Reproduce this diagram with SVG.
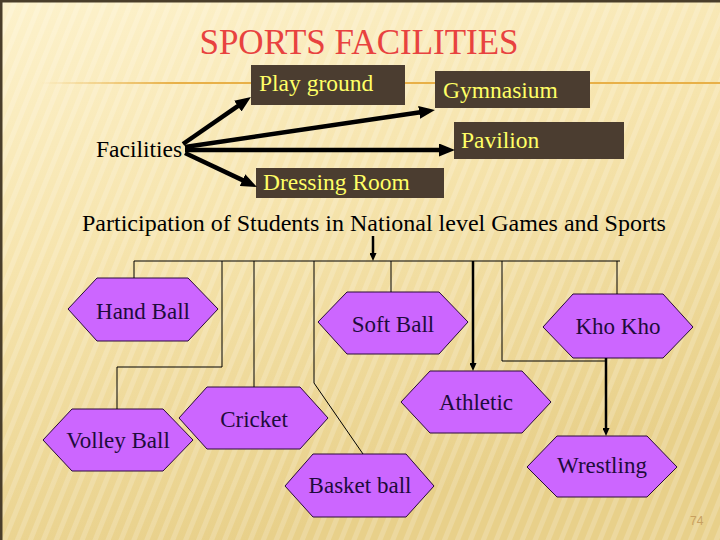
<svg xmlns="http://www.w3.org/2000/svg" width="720" height="540" viewBox="0 0 720 540">
<defs>
<linearGradient id="bg" x1="0" y1="0" x2="0.35" y2="1">
<stop offset="0" stop-color="#fdf2cc"/>
<stop offset="0.45" stop-color="#f6e4ad"/>
<stop offset="1" stop-color="#e8d08a"/>
</linearGradient>
<pattern id="stripes" width="12" height="12" patternUnits="userSpaceOnUse" patternTransform="rotate(22)">
<rect width="5" height="12" fill="#ffffff" opacity="0.18"/>
</pattern>
<linearGradient id="rule" x1="40" y1="0" x2="720" y2="0" gradientUnits="userSpaceOnUse">
<stop offset="0" stop-color="#e8b048" stop-opacity="0"/>
<stop offset="0.2" stop-color="#e8b048" stop-opacity="1"/>
<stop offset="1" stop-color="#e8b048" stop-opacity="1"/>
</linearGradient>
<marker id="big" markerUnits="userSpaceOnUse" markerWidth="16" markerHeight="13" refX="3" refY="6.5" orient="auto">
<path d="M0,0 L16,6.5 L0,13 z" fill="#000"/>
</marker>
<marker id="small" markerUnits="userSpaceOnUse" markerWidth="8" markerHeight="7" refX="2" refY="3.5" orient="auto">
<path d="M0,0 L8,3.5 L0,7 z" fill="#000"/>
</marker>
</defs>
<style>
.box{fill:#4b3d30}
.boxt{font-family:"Liberation Serif",serif;font-size:23.5px;fill:#ffff66}
.hex{fill:#cc66ff;stroke:#2a0a3a;stroke-width:1}
.hext{font-family:"Liberation Serif",serif;font-size:23px;fill:#1e0b3c;text-anchor:middle}
.lbl{font-family:"Liberation Serif",serif;font-size:23.5px;fill:#000}
.thin{stroke:#000;stroke-width:1;fill:none}
.thick{stroke:#000;stroke-width:2.5;fill:none}
.big{stroke:#000;stroke-width:4.5;fill:none}
</style>
<rect width="720" height="540" fill="url(#bg)"/>
<rect width="720" height="540" fill="url(#stripes)"/>
<rect x="0" y="0" width="720" height="2.5" fill="#4a3e2a"/>
<rect x="0" y="0" width="2.5" height="540" fill="#4a3e2a"/>
<line x1="40" y1="83" x2="720" y2="83" stroke="url(#rule)" stroke-width="2"/>
<text x="359" y="54" font-family="'Liberation Serif',serif" font-size="35" fill="#e8423f" text-anchor="middle">SPORTS FACILITIES</text>
<text x="690" y="525" font-family="'Liberation Sans',sans-serif" font-size="12" fill="#c8a060">74</text>

<g id="facilities"><text class="lbl" x="96" y="157">Facilities</text></g>
<g id="playground"><rect class="box" x="251" y="65" width="154" height="40"/><text class="boxt" x="259" y="91">Play ground</text></g>
<g id="gymnasium"><rect class="box" x="435" y="71" width="155" height="37"/><text class="boxt" x="443" y="98">Gymnasium</text></g>
<g id="pavilion"><rect class="box" x="454" y="122" width="170" height="37"/><text class="boxt" x="461" y="148">Pavilion</text></g>
<g id="dressing"><rect class="box" x="256" y="168" width="188" height="30"/><text class="boxt" x="263" y="190">Dressing Room</text></g>

<g id="participation"><text class="lbl" x="82" y="231" style="font-size:24px">Participation of Students in National level Games and Sports</text></g>

<g id="handball"><polygon class="hex" points="68,309 97,278 188,278 218,309 188,341 97,341"/><text class="hext" x="143" y="319">Hand Ball</text></g>
<g id="volleyball"><polygon class="hex" points="43,440 72,409 163,409 193,440 163,471 72,471"/><text class="hext" x="118" y="448">Volley Ball</text></g>
<g id="cricket"><polygon class="hex" points="179,418 207,387 300,387 328,418 300,449 207,449"/><text class="hext" x="254" y="427">Cricket</text></g>
<g id="softball"><polygon class="hex" points="318,322 347,292 439,292 468,322 439,354 347,354"/><text class="hext" x="393" y="332">Soft Ball</text></g>
<g id="athletic"><polygon class="hex" points="401,402 430,371 522,371 551,402 522,433 430,433"/><text class="hext" x="476" y="410">Athletic</text></g>
<g id="khokho"><polygon class="hex" points="543,327 573,294 663,294 693,327 663,358 573,358"/><text class="hext" x="618" y="334">Kho Kho</text></g>
<g id="wrestling"><polygon class="hex" points="527,467 557,436 647,436 677,467 647,497 557,497"/><text class="hext" x="602" y="473">Wrestling</text></g>
<g id="basketball"><polygon class="hex" points="285,486 313,454 406,454 434,486 406,517 313,517"/><text class="hext" x="360" y="493">Basket ball</text></g>

<g id="connectors">
<line class="big" x1="183" y1="144" x2="240.3" y2="104.4" marker-end="url(#big)"/>
<line class="big" x1="185" y1="147" x2="422.1" y2="111.9" marker-end="url(#big)"/>
<line class="big" x1="185" y1="150" x2="442" y2="150" marker-end="url(#big)"/>
<line class="big" x1="185" y1="153" x2="245.2" y2="181.4" marker-end="url(#big)"/>
<line class="thick" x1="373" y1="236" x2="373" y2="255" marker-end="url(#small)"/>
<line class="thin" x1="134" y1="261" x2="620" y2="261"/>
<line class="thin" x1="134" y1="261" x2="134" y2="278"/>
<polyline class="thin" points="222,261 222,367 117,367 117,409"/>
<line class="thin" x1="254" y1="261" x2="254" y2="387"/>
<polyline class="thin" points="314,261 314,383 363,454"/>
<line class="thin" x1="391" y1="261" x2="391" y2="292"/>
<line class="thick" x1="473" y1="261" x2="473" y2="365" marker-end="url(#small)"/>
<polyline class="thin" points="502,261 502,361 606,361"/>
<line class="thick" x1="606" y1="358" x2="606" y2="430" marker-end="url(#small)"/>
<line class="thin" x1="617" y1="261" x2="617" y2="294"/>
</g>
</svg>
